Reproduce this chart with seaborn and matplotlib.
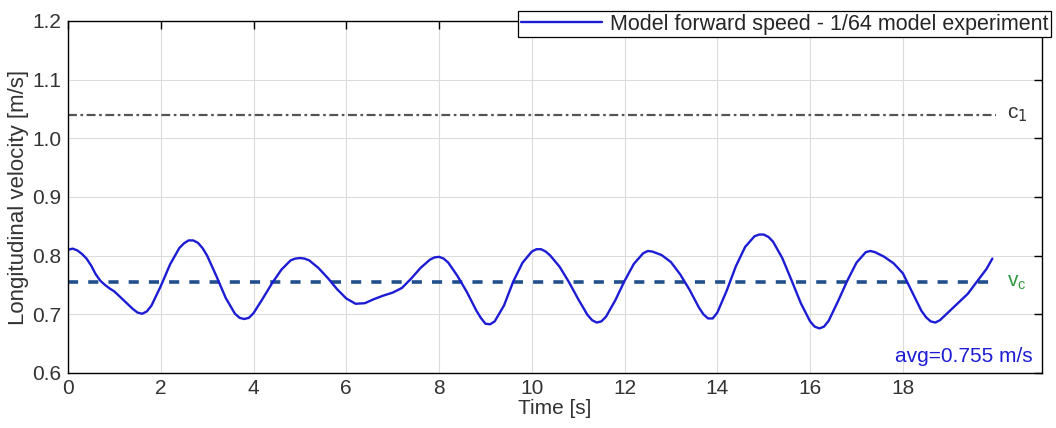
import matplotlib
matplotlib.use("Agg")
import matplotlib.pyplot as plt
import seaborn as sns
import pandas as pd

# ---- data ----
time_s = [0.0, 0.1, 0.2, 0.3, 0.4, 0.5, 0.6, 0.7, 0.8, 0.9, 1.0, 1.2, 1.4, 1.5, 1.6, 1.7, 1.8,
          2.0, 2.2, 2.4, 2.5, 2.6, 2.7, 2.8, 2.9, 3.0, 3.2, 3.4, 3.6, 3.7, 3.8, 3.9,
          4.0, 4.2, 4.4, 4.6, 4.8, 4.9, 5.0, 5.1, 5.2, 5.4, 5.6, 5.8,
          6.0, 6.2, 6.4, 6.6, 6.8, 7.0, 7.2, 7.4, 7.6, 7.8, 7.9,
          8.0, 8.1, 8.2, 8.4, 8.6, 8.8, 8.9, 9.0, 9.1, 9.2, 9.4, 9.6, 9.8,
          10.0, 10.1, 10.2, 10.3, 10.4, 10.6, 10.8, 11.0, 11.2, 11.3, 11.4, 11.5, 11.6, 11.8,
          12.0, 12.2, 12.4, 12.5, 12.6, 12.8, 13.0, 13.2, 13.4, 13.6, 13.7, 13.8, 13.9,
          14.0, 14.2, 14.4, 14.6, 14.8, 14.9, 15.0, 15.1, 15.2, 15.4, 15.6, 15.8,
          16.0, 16.1, 16.2, 16.3, 16.4, 16.6, 16.8, 17.0, 17.2, 17.3, 17.4, 17.6, 17.8,
          18.0, 18.2, 18.4, 18.5, 18.6, 18.7, 18.8, 19.0, 19.2, 19.4, 19.6, 19.8, 19.93]
speed = [0.810, 0.812, 0.809, 0.803, 0.795, 0.783, 0.768, 0.757, 0.750, 0.744, 0.739, 0.724, 0.709, 0.703, 0.701, 0.705, 0.715,
         0.748, 0.785, 0.813, 0.821, 0.826, 0.826, 0.822, 0.813, 0.800, 0.765, 0.728, 0.701, 0.694, 0.692, 0.694,
         0.702, 0.727, 0.753, 0.776, 0.792, 0.795, 0.796, 0.795, 0.792, 0.779, 0.762, 0.743,
         0.727, 0.718, 0.719, 0.726, 0.732, 0.737, 0.745, 0.761, 0.779, 0.793, 0.797,
         0.798, 0.795, 0.788, 0.765, 0.738, 0.707, 0.694, 0.684, 0.683, 0.688, 0.715, 0.756, 0.788,
         0.807, 0.811, 0.811, 0.807, 0.800, 0.781, 0.755, 0.726, 0.699, 0.690, 0.686, 0.688, 0.696, 0.724,
         0.757, 0.786, 0.804, 0.808, 0.807, 0.801, 0.789, 0.768, 0.742, 0.712, 0.700, 0.693, 0.693,
         0.703, 0.740, 0.782, 0.815, 0.833, 0.836, 0.836, 0.832, 0.824, 0.796, 0.758, 0.719,
         0.688, 0.679, 0.676, 0.679, 0.689, 0.722, 0.757, 0.788, 0.806, 0.808, 0.806, 0.798, 0.787,
         0.770, 0.738, 0.706, 0.695, 0.688, 0.686, 0.690, 0.705, 0.720, 0.735, 0.756, 0.777, 0.795]
c1_value = 1.04
vc_value = 0.755
x_ticks = [0, 2, 4, 6, 8, 10, 12, 14, 16, 18]
y_ticks = [0.6, 0.7, 0.8, 0.9, 1.0, 1.1, 1.2]
legend_label = "Model forward speed - 1/64 model experiment"
avg_text = "avg=0.755 m/s"

df = pd.DataFrame({"t": time_s, "v": speed})

sns.set_style("white")
plt.rcParams["font.family"] = ["Liberation Sans", "DejaVu Sans"]

fig = plt.figure(figsize=(10.56, 4.28), dpi=100)
ax = fig.add_axes([68 / 1056, 1 - 373 / 428, (1042 - 68) / 1056, (373 - 21) / 428])

ax.grid(True, color="#dcdcdc", linewidth=0.8)
ax.set_axisbelow(True)

ax.axhline(c1_value, xmin=0, xmax=20.0 / 21.0, color="#555555", linewidth=1.6,
           dashes=(4, 1.6, 1.2, 1.6))
ax.axhline(vc_value, xmin=0, xmax=20.0 / 21.0, color="#214f8c", linewidth=2.6,
           dashes=(2.8, 2.8))

sns.lineplot(data=df, x="t", y="v", ax=ax, color="#1c1cd4", linewidth=1.7,
             label=legend_label, legend=False, solid_joinstyle="round")

ax.set_xlim(0, 21)
ax.set_ylim(0.6, 1.2)
ax.set_xticks(x_ticks)
ax.set_xticklabels([str(t) for t in x_ticks])
ax.set_yticks(y_ticks)
ax.set_yticklabels([f"{v:.1f}" for v in y_ticks])
ax.tick_params(direction="in", length=6, width=1, top=True, right=True,
               labelsize=15, colors="black", labelcolor="#333333")
ax.tick_params(axis="x", pad=4)
ax.tick_params(axis="y", pad=5)
for s in ax.spines.values():
    s.set_color("black")
    s.set_linewidth(1.0)

ax.set_xlabel("Time [s]", fontsize=15, color="#333333", labelpad=1)
ax.set_ylabel("Longitudinal velocity [m/s]", fontsize=16, color="#333333", labelpad=2)

ax.text(20.25, c1_value, r"c$_1$", fontsize=15, color="#333333", va="center", ha="left")
ax.text(20.25, vc_value, r"v$_\mathregular{c}$", fontsize=15, color="#2e9a3e", va="center", ha="left")
ax.text(20.8, 0.612, avg_text, fontsize=15, color="#1c1cd4", va="bottom", ha="right")

leg = ax.legend(loc="upper right", bbox_to_anchor=(1051 / 1056, 1 - 11 / 428),
                bbox_transform=fig.transFigure, fontsize=15.5, frameon=True,
                fancybox=False, handlelength=3.8, borderpad=0.12, handletextpad=0.35,
                borderaxespad=0)
leg.get_frame().set_edgecolor("black")
leg.get_frame().set_linewidth(0.9)
leg.get_frame().set_alpha(1)

fig.savefig("out.png", dpi=100)
